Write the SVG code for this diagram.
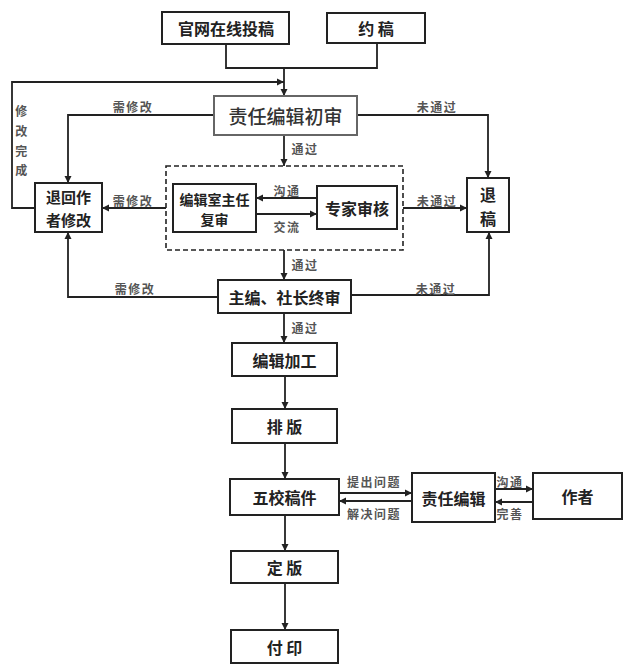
<svg xmlns="http://www.w3.org/2000/svg" width="624" height="669" viewBox="0 0 624 669">
<defs>
<marker id="ah" viewBox="0 0 10 10" refX="10" refY="5" markerWidth="4" markerHeight="4" orient="auto" markerUnits="strokeWidth">
<path d="M0,0 L10,5 L0,10 z" fill="#222"/>
</marker>
<style>
.box{fill:#fff;stroke:#222;stroke-width:2}
.nt{font-family:"Noto Sans CJK SC","Noto Sans",sans-serif;font-weight:bold;fill:#222;text-anchor:middle;dominant-baseline:central}
.lb{font-family:"Noto Sans CJK SC","Noto Sans",sans-serif;font-weight:bold;fill:#555;font-size:12px;letter-spacing:1.5px;text-anchor:middle;dominant-baseline:central}
.cn{fill:none;stroke:#222;stroke-width:1.8}
.ar{marker-end:url(#ah)}
</style>
</defs>
<rect width="624" height="669" fill="#fff"/>
<g id="connectors">
<polyline class="cn" points="226,44 226,68 377,68 377,43"/>
<polyline class="cn ar" points="284,68 284,96"/>
<polyline class="cn ar" points="35,208 12,208 12,82 284,82"/>
<polyline class="cn ar" points="214,115 68,115 68,183"/>
<polyline class="cn ar" points="357,115 488,115 488,178"/>
<polyline class="cn ar" points="284,135 284,166"/>
<polyline class="cn ar" points="317,198 256,198"/>
<polyline class="cn ar" points="256,214 317,214"/>
<polyline class="cn ar" points="166,208 102,208"/>
<polyline class="cn ar" points="403,208 467,208"/>
<polyline class="cn ar" points="284,250 284,280"/>
<polyline class="cn ar" points="218,297 68,297 68,232"/>
<polyline class="cn ar" points="351,295 489,295 489,232"/>
<polyline class="cn ar" points="284,313 284,343"/>
<polyline class="cn ar" points="285,376 285,409"/>
<polyline class="cn ar" points="285,443 285,479"/>
<polyline class="cn ar" points="285,515 285,551"/>
<polyline class="cn ar" points="285,583 285,630"/>
<polyline class="cn ar" points="339,493 412,493"/>
<polyline class="cn ar" points="412,501 339,501"/>
<polyline class="cn ar" points="495,489 533,489"/>
<polyline class="cn ar" points="533,502 495,502"/>
<text class="lb" x="133" y="106">需修改</text>
<text class="lb" x="437" y="106">未通过</text>
<text class="lb" x="305" y="148">通过</text>
<text class="lb" x="287" y="190">沟通</text>
<text class="lb" x="287" y="226">交流</text>
<text class="lb" x="133" y="200">需修改</text>
<text class="lb" x="437" y="200">未通过</text>
<text class="lb" x="305" y="264">通过</text>
<text class="lb" x="135" y="288">需修改</text>
<text class="lb" x="436" y="288">未通过</text>
<text class="lb" x="305" y="327">通过</text>
<text class="lb" x="22" y="110">修</text>
<text class="lb" x="22" y="130">改</text>
<text class="lb" x="22" y="150">完</text>
<text class="lb" x="22" y="169">成</text>
<text class="lb" x="374" y="481">提出问题</text>
<text class="lb" x="374" y="513">解决问题</text>
<text class="lb" x="510" y="481">沟通</text>
<text class="lb" x="510" y="513">完善</text>
</g>
<g id="dashed-group">
<rect x="166" y="166" width="237" height="84" fill="none" stroke="#222" stroke-width="1.6" stroke-dasharray="5,3"/>
</g>
<g id="n-guanwang">
<rect class="box" x="162" y="12" width="127" height="32"/>
<text class="nt" x="226" y="28" font-size="16">官网在线投稿</text>
</g>
<g id="n-yuegao">
<rect class="box" x="327" y="13" width="98" height="30"/>
<text class="nt" x="376" y="28" font-size="16">约 稿</text>
</g>
<g id="n-chushen">
<rect x="214" y="96" width="143" height="39" fill="#fff" stroke="#666" stroke-width="2"/>
<text class="nt" x="285.5" y="115.5" font-size="19" style="font-weight:500;fill:#333">责任编辑初审</text>
</g>
<g id="n-tuihui">
<rect class="box" x="35" y="183" width="67" height="49"/>
<text class="nt" x="68.5" y="196.5" font-size="15">退回作</text>
<text class="nt" x="68.5" y="219" font-size="15">者修改</text>
</g>
<g id="n-fushen">
<rect class="box" x="173" y="184" width="83" height="48"/>
<text class="nt" x="214.5" y="198.5" font-size="14">编辑室主任</text>
<text class="nt" x="214.5" y="218.5" font-size="14">复审</text>
</g>
<g id="n-zhuanjia">
<rect class="box" x="317" y="186" width="80" height="43"/>
<text class="nt" x="357" y="207.5" font-size="16">专家审核</text>
</g>
<g id="n-tuigao">
<rect class="box" x="467" y="178" width="42" height="54"/>
<text class="nt" x="488" y="194" font-size="16">退</text>
<text class="nt" x="488" y="217.5" font-size="16">稿</text>
</g>
<g id="n-zhongshen">
<rect class="box" x="218" y="280" width="133" height="33"/>
<text class="nt" x="284.5" y="296.5" font-size="16">主编、社长终审</text>
</g>
<g id="n-jiagong">
<rect class="box" x="232" y="343" width="105" height="33"/>
<text class="nt" x="284.5" y="359.5" font-size="16">编辑加工</text>
</g>
<g id="n-paiban">
<rect class="box" x="232" y="409" width="105" height="34"/>
<text class="nt" x="284.5" y="426" font-size="16">排 版</text>
</g>
<g id="n-wujiao">
<rect class="box" x="230" y="479" width="109" height="36"/>
<text class="nt" x="284.5" y="497" font-size="16">五校稿件</text>
</g>
<g id="n-zebian">
<rect class="box" x="412" y="473" width="83" height="49"/>
<text class="nt" x="453.5" y="497.5" font-size="16">责任编辑</text>
</g>
<g id="n-zuozhe">
<rect class="box" x="533" y="473" width="89" height="46"/>
<text class="nt" x="577.5" y="496" font-size="16">作者</text>
</g>
<g id="n-dingban">
<rect class="box" x="231" y="551" width="107" height="32"/>
<text class="nt" x="284.5" y="567" font-size="16">定 版</text>
</g>
<g id="n-fuyin">
<rect class="box" x="231" y="630" width="107" height="33"/>
<text class="nt" x="284.5" y="646.5" font-size="16">付 印</text>
</g>
</svg>
